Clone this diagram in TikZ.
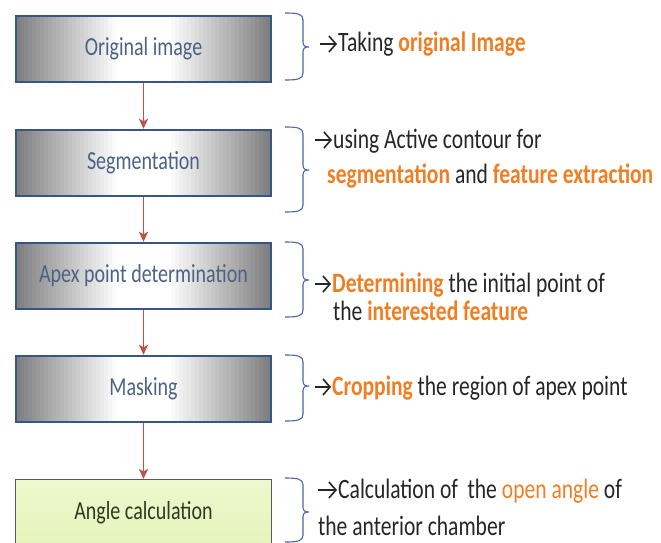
\documentclass[tikz,border=0pt]{standalone}
\usepackage{fontspec}
\setmainfont{Carlito}[FakeStretch=0.77]
\usetikzlibrary{arrows.meta}

\definecolor{boxnavy}{HTML}{36568A}
\definecolor{boxtext}{HTML}{4C6384}
\definecolor{flowred}{HTML}{C0504D}
\definecolor{accent}{HTML}{F07F24}
\definecolor{bracecol}{HTML}{4A66A6}
\definecolor{ink}{HTML}{262626}
\definecolor{greentop}{HTML}{EEF8CE}
\definecolor{greenbot}{HTML}{E2F2B4}
\definecolor{greentext}{HTML}{2E3A22}
\definecolor{edgegray}{HTML}{7C7C7C}

% orange highlight
\newcommand\hl[1]{\textcolor{accent}{\bfseries #1}}

% metallic fill of a step box centred at (#1,#2): thin vertical strips,
% white in the middle and darkening towards both rims
\newcommand\metalfill[2]{%
  \foreach \i in {0,...,63} {
    \pgfmathsetmacro\dist{abs((\i+0.5)/64-0.5)*2}
    \pgfmathtruncatemacro\mix{100*max(\dist-0.2,0)/0.8}
    \fill[edgegray!\mix!white]
      ({#1-127.5+\i*255/64},{#2-33}) rectangle ({#1-127.5+(\i+1)*255/64+0.4},{#2+33});
  }}

% right-hand curly bracket: top, tip and bottom, measured downwards
\newcommand\sidebrace[3]{%
  \draw[bracket] (285,-#1) .. controls (298,-#1) and (303,-#1-1) .. (303,-#1-7)
    -- (303,-#2+5) .. controls (303,-#2+1) and (305,-#2) .. (309,-#2)
    .. controls (305,-#2) and (303,-#2-1) .. (303,-#2-5)
    -- (303,-#3+7) .. controls (303,-#3+1) and (298,-#3) .. (285,-#3);}

% pointer arrow in front of a note: note name, arrow length
\newcommand\notearrow[2]{%
  \draw[pointer] ([xshift=-#2, yshift=8pt]#1.base west) -- ([xshift=-1pt, yshift=8pt]#1.base west);}

\tikzset{
  stepbox/.style={draw=boxnavy, line width=2.4pt,
    minimum width=255pt, minimum height=66pt, inner sep=0pt,
    text=boxtext, font=\fontsize{26}{29}\selectfont},
  lastbox/.style={draw=black!65, line width=0.9pt,
    minimum width=256pt, minimum height=90pt, inner sep=0pt,
    top color=greentop, bottom color=greenbot},
  flow/.style={-{Stealth[length=10pt,width=9pt,inset=2.5pt]}, draw=flowred, line width=1.9pt},
  note/.style={anchor=base west, inner sep=0pt, text=ink,
    font=\fontsize{28}{31}\selectfont},
  pointer/.style={-{Straight Barb[length=7pt,width=16pt]}, draw=ink, line width=1.6pt},
  bracket/.style={draw=bracecol, line width=1.1pt}
}

\begin{document}
\begin{tikzpicture}[x=1pt, y=1pt]
  \clip (0,0) rectangle (661,-543);
  \fill[white] (0,0) rectangle (661,-543);

  % processing steps
  \metalfill{143.5}{-49}
  \metalfill{143.5}{-163}
  \metalfill{143.5}{-276}
  \metalfill{143.5}{-389}
  \node[stepbox] (b1) at (143.5,-49)  {Original image};
  \node[stepbox] (b2) at (143.5,-163) {Segmentation};
  \node[stepbox] (b3) at (143.5,-276) {Apex point determination};
  \node[stepbox] (b4) at (143.5,-389) {Masking};
  \node[lastbox, anchor=north] (b5) at (143.5,-479) {};
  \node[text=greentext, font=\fontsize{26}{29}\selectfont, inner sep=0pt] (b5t) at (143.5,-513) {Angle calculation};

  % flow between steps
  \draw[flow] (b1.south) -- (b2.north);
  \draw[flow] (b2.south) -- (b3.north);
  \draw[flow] (b3.south) -- (b4.north);
  \draw[flow] (b4.south) -- (b5.north);

  % brackets
  \sidebrace{13}{47}{80}
  \sidebrace{127}{170}{212}
  \sidebrace{242}{280}{317}
  \sidebrace{355}{386}{421}
  \sidebrace{478}{512}{542}

  % explanations
  \node[note] (n1)  at (338,-52)  {Taking \hl{original Image}};
  \node[note] (n2a) at (333,-148) {using Active contour for};
  \node[note] (n2b) at (327,-183) {\hl{segmentation} and \hl{feature extraction}};
  \node[note] (n3a) at (332,-292) {\hl{Determining} the initial point of};
  \node[note] (n3b) at (333,-320) {the \hl{interested feature}};
  \node[note] (n4)  at (332,-395) {\hl{Cropping} the region of apex point};
  \node[note] (n5a) at (338,-498) {Calculation of\ \ the \textcolor{accent}{open angle} of};
  \node[note] (n5b) at (318,-535) {the anterior chamber};

  \notearrow{n1}{18pt}
  \notearrow{n2a}{18pt}
  \notearrow{n3a}{17pt}
  \notearrow{n4}{17pt}
  \notearrow{n5a}{20pt}
\end{tikzpicture}
\end{document}
